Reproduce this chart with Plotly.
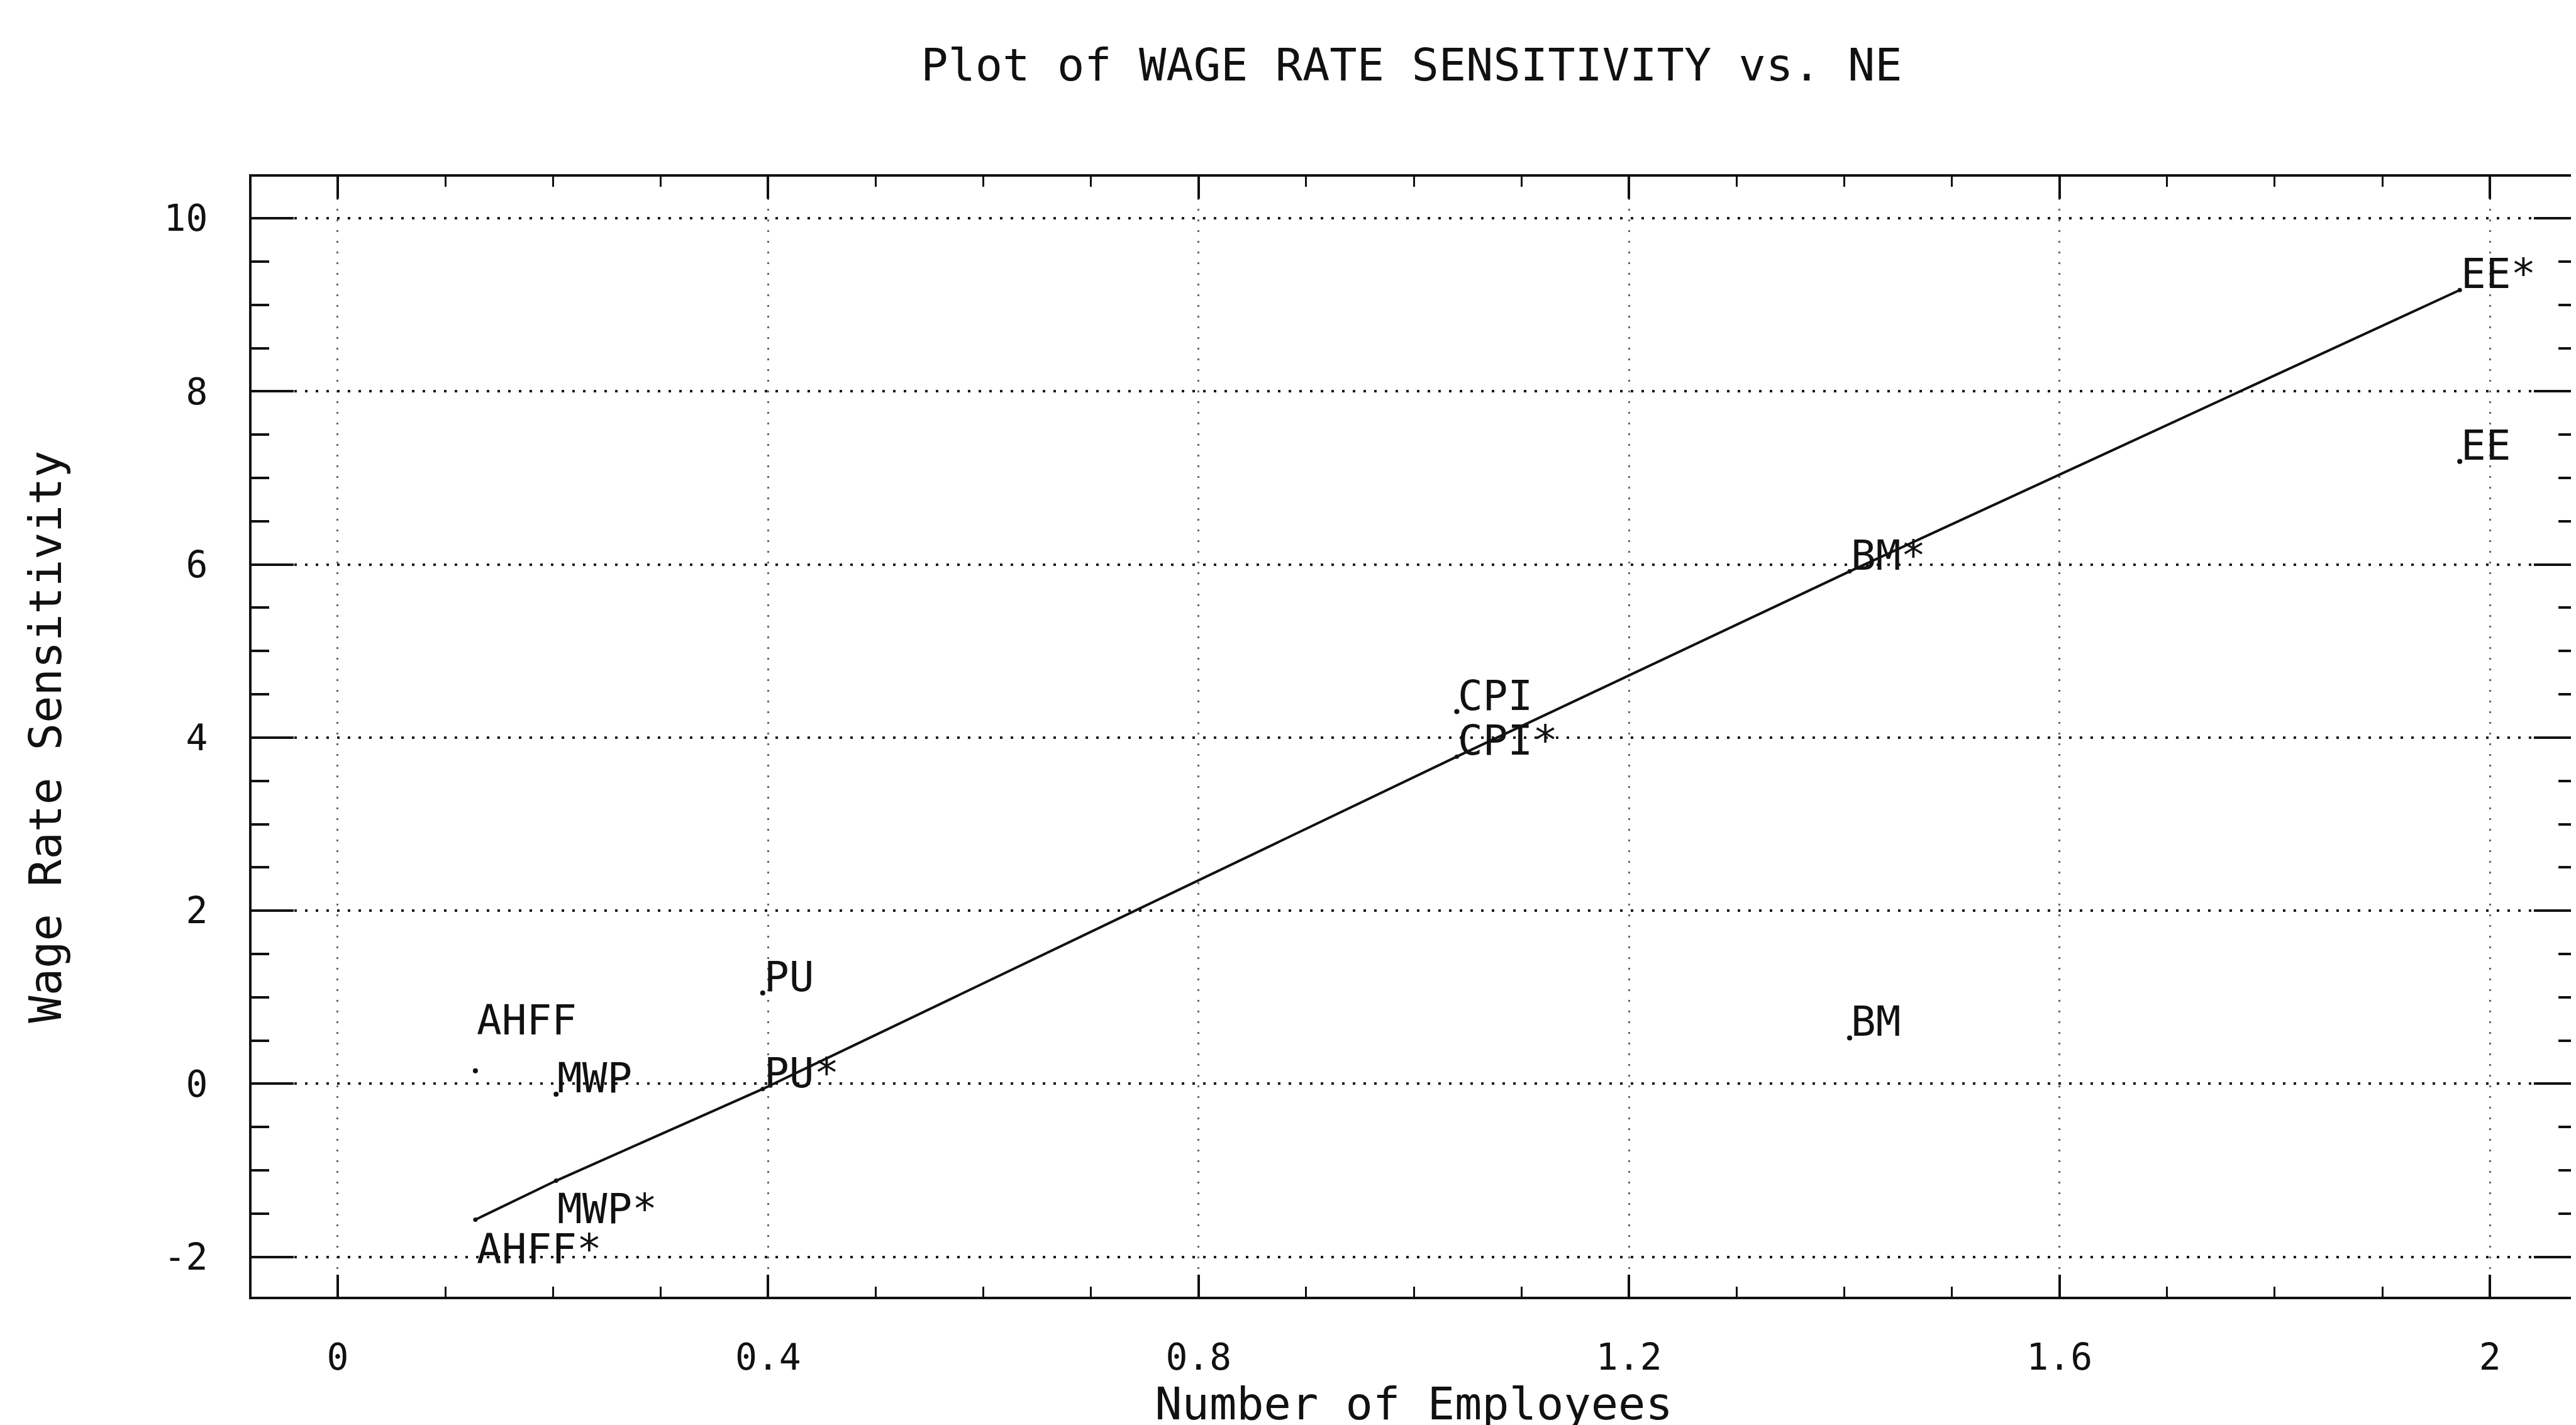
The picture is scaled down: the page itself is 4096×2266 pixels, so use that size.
import plotly.graph_objects as go

# ---------------- data ----------------
categories = ["AHFF", "MWP", "PU", "CPI", "BM", "EE"]
ne_values = [0.128, 0.203, 0.395, 1.04, 1.405, 1.972]
actual_sensitivity = [0.15, -0.12, 1.05, 4.30, 0.53, 7.19]
predicted_sensitivity = [-1.57, -1.12, -0.06, 3.78, 5.92, 9.17]
x_tick_values = [0, 0.4, 0.8, 1.2, 1.6, 2.0]
x_tick_labels = ["0", "0.4", "0.8", "1.2", "1.6", "2"]
y_tick_values = [-2, 0, 2, 4, 6, 8, 10]
y_tick_labels = ["-2", "0", "2", "4", "6", "8", "10"]

# ---------------- style ----------------
FONT = "DejaVu Sans Mono"
INK = "#111111"
LABEL_SIZE = 66
actual_label_yanchor = ["bottom", "bottom", "bottom", "bottom", "bottom", "bottom"]
actual_label_yshift = [40, -15, -15, -15, -15, -15]
pred_label_yanchor = ["top", "top", "bottom", "bottom", "bottom", "bottom"]
pred_label_yshift = [-6, -4, -15, -15, -15, -15]

fig = go.Figure()

# fitted line through the predicted points
fig.add_trace(go.Scatter(
    x=ne_values, y=predicted_sensitivity, mode="lines+markers",
    line=dict(color=INK, width=4),
    marker=dict(color=INK, size=7),
    showlegend=False, hoverinfo="skip",
))
# actual points (small pen dots)
fig.add_trace(go.Scatter(
    x=ne_values, y=actual_sensitivity, mode="markers",
    marker=dict(color=INK, size=8),
    showlegend=False, hoverinfo="skip",
))

annotations = []
for i, cat in enumerate(categories):
    annotations.append(dict(
        x=ne_values[i], y=actual_sensitivity[i], xref="x", yref="y",
        text=cat, showarrow=False, xanchor="left",
        yanchor=actual_label_yanchor[i], yshift=actual_label_yshift[i],
        font=dict(family=FONT, size=LABEL_SIZE, color=INK),
    ))
    annotations.append(dict(
        x=ne_values[i], y=predicted_sensitivity[i], xref="x", yref="y",
        text=cat + "*", showarrow=False, xanchor="left",
        yanchor=pred_label_yanchor[i], yshift=pred_label_yshift[i],
        font=dict(family=FONT, size=LABEL_SIZE, color=INK),
    ))

fig.update_layout(
    width=4096, height=2266,
    margin=dict(l=392, r=4, t=273, b=212),
    paper_bgcolor="white", plot_bgcolor="white",
    font=dict(family=FONT, color=INK),
    title=dict(
        text="Plot of WAGE RATE SENSITIVITY vs. NE",
        x=0.546, xanchor="center", y=1 - 95 / 2266, yanchor="middle",
        yref="container",
        font=dict(family=FONT, size=72, color=INK),
    ),
    annotations=annotations,
)

fig.update_xaxes(
    range=[-0.08, 2.08],
    tickmode="array", tickvals=x_tick_values, ticktext=x_tick_labels,
    ticks="inside", ticklen=35, tickwidth=3.5, tickcolor=INK,
    minor=dict(dtick=0.1, tick0=0, ticks="inside", ticklen=16, tickwidth=3, tickcolor=INK, showgrid=False),
    showline=True, linecolor=INK, linewidth=4, mirror="ticks",
    showgrid=True, gridcolor="#666666", gridwidth=3, griddash="3px,14px",
    zeroline=False,
    tickfont=dict(family=FONT, size=58, color=INK),
    ticklabelstandoff=42,
    title=dict(text="Number of Employees", font=dict(family=FONT, size=72, color=INK), standoff=24),
)
fig.update_yaxes(
    range=[-2.46, 10.48],
    tickmode="array", tickvals=y_tick_values, ticktext=y_tick_labels,
    ticks="inside", ticklen=67, tickwidth=3.5, tickcolor=INK,
    minor=dict(dtick=0.5, tick0=0, ticks="inside", ticklen=28, tickwidth=3.5, tickcolor=INK, showgrid=False),
    showline=True, linecolor=INK, linewidth=4, mirror="ticks",
    showgrid=True, gridcolor="#1a1a1a", gridwidth=4, griddash="4px,13px",
    zeroline=False,
    tickfont=dict(family=FONT, size=58, color=INK),
    ticklabelstandoff=54,
    title=dict(text="Wage Rate Sensitivity", font=dict(family=FONT, size=72, color=INK), standoff=140),
)

fig.write_html("out.html")
